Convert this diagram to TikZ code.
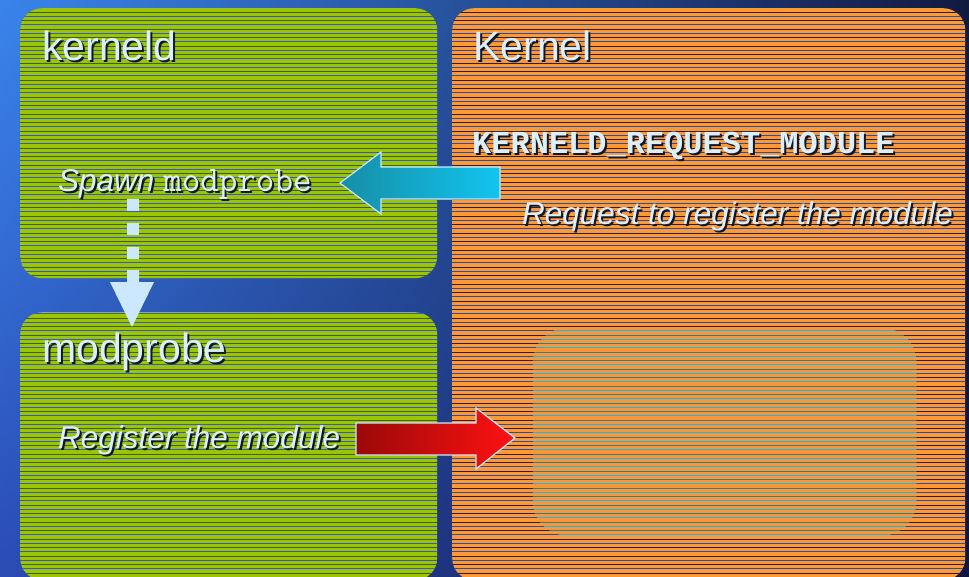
\documentclass[tikz,border=0pt]{standalone}
\usepackage{fontspec}
\setmainfont{Liberation Sans}
\newfontfamily\boldmono{Liberation Mono}
\usetikzlibrary{shadings}

% palette
\definecolor{bgUL}{HTML}{3A84EC}
\definecolor{bgUR}{HTML}{121A40}
\definecolor{bgLL}{HTML}{2A4CB4}
\definecolor{bgLR}{HTML}{101640}
\definecolor{limefill}{HTML}{99C600}
\definecolor{limedark}{HTML}{4A5A1C}
\definecolor{limeblue}{HTML}{3A58CC}
\definecolor{orangefill}{HTML}{FF9933}
\definecolor{orangedark}{HTML}{2A1E38}
\definecolor{orangeblue}{HTML}{2A4EA8}
\definecolor{slotfill}{HTML}{F7973C}
\definecolor{slotcyan}{HTML}{22B6E6}
\definecolor{slotdark}{HTML}{3C7A84}
\definecolor{labeltext}{HTML}{DCEFFF}
\definecolor{labelshadow}{HTML}{101828}
\definecolor{outline}{HTML}{C8E8FF}
\definecolor{paleflow}{HTML}{CCE8FF}
\definecolor{tealL}{HTML}{168EA6}
\definecolor{tealR}{HTML}{12C4F0}
\definecolor{redL}{HTML}{9A0808}
\definecolor{redR}{HTML}{FF1212}

% text with a dark drop shadow behind it
\newcommand\shadowed[1]{\makebox[0pt][l]{\hspace{2pt}\raisebox{-2pt}{\color{labelshadow}#1}}#1}

% horizontal scan lines clipped to a panel: node, corner radius, two line colours
\newcommand\scanlines[4]{%
  \begin{scope}
    \clip[rounded corners=#2] (#1.north west) rectangle (#1.south east);
    \foreach \k in {0,...,68} {
      \draw[#3, line width=1pt] (0,\k*8.5+3.5) -- (969,\k*8.5+3.5);
      \draw[#4, line width=1pt] (0,\k*8.5+7.75) -- (969,\k*8.5+7.75);
    }
  \end{scope}}

\tikzset{
  panel/.style={rectangle, rounded corners=22pt, inner sep=0pt, anchor=north west},
  heading/.style={font=\fontsize{41}{41}\selectfont, text=labeltext, anchor=base west, inner sep=0pt},
  caption/.style={font=\fontsize{31.5}{32}\selectfont\itshape, text=labeltext, anchor=base west, inner sep=0pt},
  msgname/.style={font=\fontsize{32}{32}\selectfont\boldmono\bfseries, text=labeltext, anchor=base west, inner sep=0pt},
}

\begin{document}
\begin{tikzpicture}[x=1pt,y=-1pt]
\useasboundingbox (0,0) rectangle (969,576);
\clip (0,0) rectangle (969,576);

% backdrop
\shade[upper left=bgUL, upper right=bgUR, lower left=bgLL, lower right=bgLR]
  (0,0) rectangle (969,576);

% panels
\node[panel, fill=limefill, minimum width=417pt, minimum height=270pt] (kerneld) at (20,8) {};
\scanlines{kerneld}{22pt}{limedark}{limeblue}
\node[panel, fill=limefill, minimum width=417pt, minimum height=268pt] (modprobe) at (20,312) {};
\scanlines{modprobe}{22pt}{limedark}{limeblue}
\node[panel, fill=orangefill, minimum width=513pt, minimum height=572pt] (kernel) at (452,8) {};
\scanlines{kernel}{22pt}{orangedark}{orangeblue}
\node[panel, rounded corners=34pt, fill=slotfill, minimum width=383pt, minimum height=207pt] (slot) at (533,328) {};
\scanlines{slot}{34pt}{slotdark}{slotcyan}

% panel titles
\node[heading] (kerneld-t)  at (42,60)  {\shadowed{kerneld}};
\node[heading] (kernel-t)   at (473,60) {\shadowed{Kernel}};
\node[heading] (modprobe-t) at (42,362) {\shadowed{modprobe}};

% message name
\node[msgname] (msg) at (472,153) {\shadowed{KERNELD\_REQUEST\_MODULE}};

% step captions
\node[caption] (spawn)    at (58,191)  {\shadowed{Spawn {\upshape\ttfamily\fontsize{36}{36}\selectfont modprobe}}};
\node[caption] (request)  at (522,224) {\shadowed{Request to register the module}};
\node[caption] (register) at (58,448)  {\shadowed{Register the module}};

% request: kernel -> kerneld
\path[left color=tealL, right color=tealR, draw=outline, line width=1.2pt, line join=miter]
  (500,167) -- (381,167) -- (381,152) -- (340,183) -- (381,214) -- (381,199)
  -- (500,199) -- cycle;

% spawn: kerneld -> modprobe (dashed block arrow)
\fill[paleflow] (127,199) rectangle (139,211);
\fill[paleflow] (127,223) rectangle (139,235);
\fill[paleflow] (127,247) rectangle (139,259);
\fill[paleflow] (127,270) -- (139,270) -- (139,282) -- (154,282) -- (132,327)
  -- (110,282) -- (127,282) -- cycle;

% register: modprobe -> kernel
\path[left color=redL, right color=redR, draw=outline, line width=1.2pt, line join=miter]
  (356,423) -- (476,423) -- (476,408) -- (515,438) -- (476,469) -- (476,455)
  -- (356,455) -- cycle;
\end{tikzpicture}
\end{document}
